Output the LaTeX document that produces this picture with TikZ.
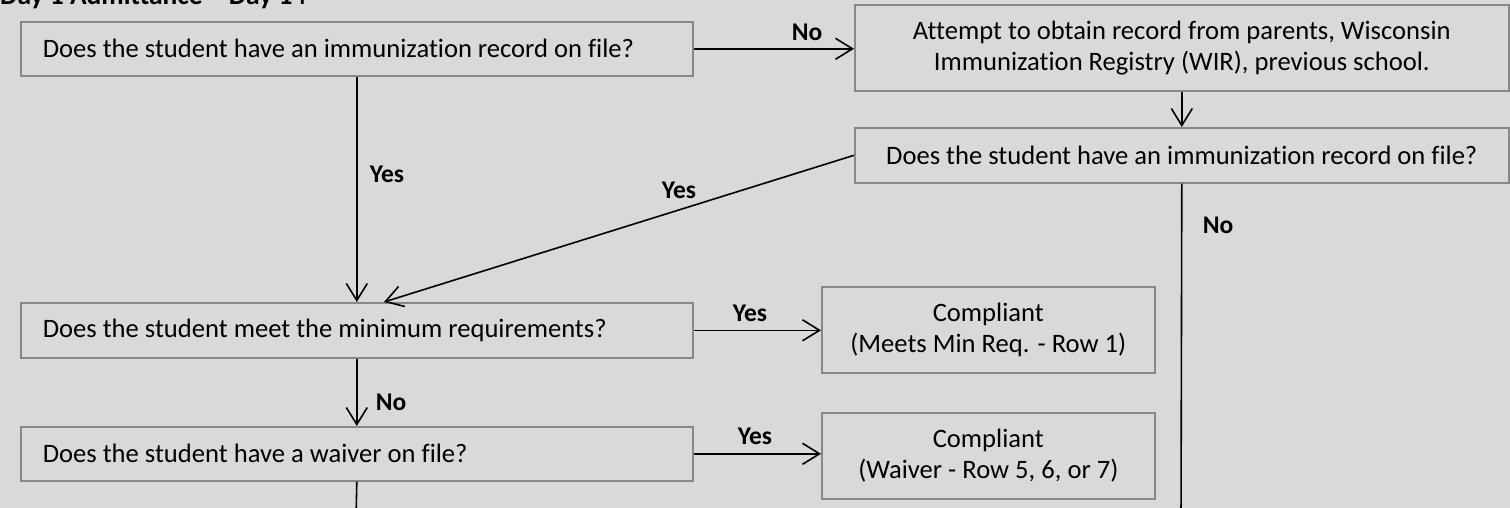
\documentclass[tikz,border=0pt]{standalone}
\usepackage{fontspec}
\setmainfont{Carlito}[Ligatures={NoCommon}]
\usetikzlibrary{arrows.meta,calc}
\definecolor{bg}{RGB}{217,217,217}
\definecolor{boxline}{RGB}{135,135,135}
\tikzset{
  box/.style={draw=boxline, line width=1.6pt, fill=bg, inner sep=0pt, font=\fontsize{26.6}{31}\selectfont},
  lbox/.style={box, align=flush left, text width=#1, inner xsep=22pt},
  cbox/.style={box, align=center},
  conn/.style={draw=black, line width=1.6pt, -{Straight Barb[length=17pt,width=21pt,line width=1.6pt]}},
  plain/.style={draw=black, line width=1.6pt},
  lbl/.style={font=\bfseries\fontsize{25.5}{29}\selectfont, inner sep=0pt}
}
\begin{document}
\begin{tikzpicture}[x=1pt,y=-1pt]
\useasboundingbox (0,0) rectangle (1510,508);
\clip (0,0) rectangle (1510,508);
\fill[bg] (0,0) rectangle (1510,508);
\node[lbl, anchor=base west, font=\bfseries\fontsize{27.5}{31}\selectfont] (title) at (0,5) {Day 1 Admittance -- Day 14};
\node[lbox=628pt, minimum height=54pt, anchor=north west] (q1) at (20,21) {Does the student have an immunization record on file?};
\node[cbox, minimum width=654pt, minimum height=86pt, anchor=north west] (att) at (854,4) {Attempt to obtain record from parents, Wisconsin\\Immunization Registry (WIR), previous school.};
\node[cbox, minimum width=654pt, minimum height=55pt, anchor=north west] (q2) at (854,127) {Does the student have an immunization record on file?};
\node[lbox=628pt, minimum height=55pt, anchor=north west] (q3) at (20,302) {Does the student meet the minimum requirements?};
\node[lbox=628pt, minimum height=54pt, anchor=north west] (q4) at (20,426) {Does the student have a waiver on file?};
\node[cbox, minimum width=333pt, minimum height=86pt, anchor=north west] (c1) at (821,286) {Compliant\\(Meets Min Req. - Row 1)};
\node[cbox, minimum width=333pt, minimum height=86pt, anchor=north west] (c2) at (821,412) {Compliant\\(Waiver - Row 5, 6, or 7)};
\coordinate (q3t) at (384,302);
\coordinate (endL) at (356,520);
\coordinate (endR) at (1181,520);
% connectors
\draw[conn] (q1.east) -- (q1.east -| att.west);
\node[lbl] (lno1) at (807,32) {No};
\draw[conn] (att.south) -- (q2.north);
\draw[conn] (q1.south) -- (q3.north);
\node[lbl] (lyes1) at (387,174) {Yes};
\draw[conn] (q2.west) -- (q3t);
\node[lbl] (lyes2) at (679,190) {Yes};
\draw[conn] (q3.east) -- (q3.east -| c1.west);
\node[lbl] (lyes3) at (750,313) {Yes};
\draw[conn] (q3.south) -- (q4.north);
\node[lbl] (lno2) at (391,402) {No};
\draw[conn] (q4.east) -- (q4.east -| c2.west);
\node[lbl] (lyes4) at (755,436) {Yes};
\draw[plain] (q4.south) -- (endL);
\draw[plain] (q2.south) -- (endR);
\node[lbl] (lno3) at (1218,225) {No};
\end{tikzpicture}
\end{document}
